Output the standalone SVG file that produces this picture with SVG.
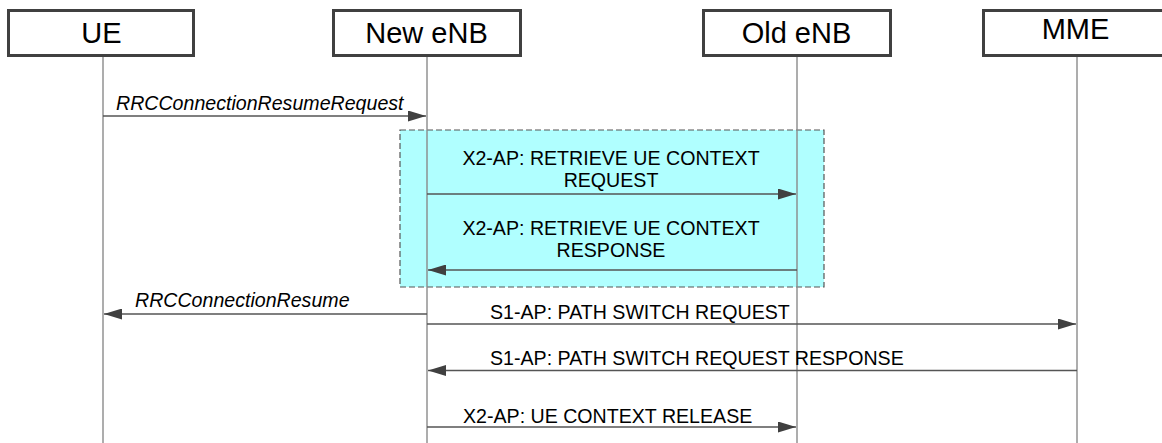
<svg xmlns="http://www.w3.org/2000/svg" width="1162" height="443" viewBox="0 0 1162 443">
<style>
.box{fill:#fff;stroke:#404040;stroke-width:3}
.title{font-family:"Liberation Sans",Arial,sans-serif;font-size:29px;fill:#000;text-anchor:middle}
.life{stroke:#8a8a8a;stroke-width:1.4}
.msg{stroke:#555;stroke-width:1.3;fill:none;marker-end:url(#ah)}
.lbl{font-family:"Liberation Sans",Arial,sans-serif;font-size:19.6px;fill:#000}
.it{font-style:italic}
.mid{text-anchor:middle}
.frame{fill:#b0ffff;stroke:#555;stroke-width:1.2;stroke-dasharray:6 3}
</style>
<defs>
<marker id="ah" viewBox="0 0 18 11" refX="18" refY="5.5" markerWidth="18" markerHeight="11" markerUnits="userSpaceOnUse" orient="auto">
<path d="M0,0 L18,5.5 L0,11 z" fill="#404040"/>
</marker>
</defs>
<rect width="1162" height="443" fill="#fff"/>
<g id="frame">
<rect class="frame" x="400" y="130" width="424" height="157"/>
</g>
<g id="UE">
<rect class="box" x="8.5" y="10.5" width="185" height="45"/>
<text class="title" x="101.5" y="42.5">UE</text>
<line class="life" x1="103" y1="57" x2="103" y2="443"/>
</g>
<g id="NewENB">
<rect class="box" x="333.5" y="10.5" width="187" height="45"/>
<text class="title" x="426.5" y="42.5">New eNB</text>
<line class="life" x1="427" y1="57" x2="427" y2="443"/>
</g>
<g id="OldENB">
<rect class="box" x="703.5" y="10.5" width="187" height="45"/>
<text class="title" x="796.5" y="42.5">Old eNB</text>
<line class="life" x1="797" y1="57" x2="797" y2="443"/>
</g>
<g id="MME">
<rect class="box" x="983.5" y="10.5" width="187" height="45"/>
<text class="title" x="1075.5" y="38.5">MME</text>
<line class="life" x1="1077" y1="57" x2="1077" y2="443"/>
</g>
<g id="connectors">
<line class="msg" x1="103" y1="116" x2="426" y2="116"/>
<text class="lbl it" x="116" y="110">RRCConnectionResumeRequest</text>
<line class="msg" x1="427" y1="194" x2="796" y2="194"/>
<text class="lbl mid" x="611" y="165">X2-AP: RETRIEVE UE CONTEXT</text>
<text class="lbl mid" x="611" y="187">REQUEST</text>
<line class="msg" x1="797" y1="270" x2="428" y2="270"/>
<text class="lbl mid" x="611" y="235">X2-AP: RETRIEVE UE CONTEXT</text>
<text class="lbl mid" x="611" y="257">RESPONSE</text>
<line class="msg" x1="427" y1="314" x2="104" y2="314"/>
<text class="lbl it" x="135" y="307">RRCConnectionResume</text>
<line class="msg" x1="427" y1="324" x2="1076" y2="324"/>
<text class="lbl" x="490" y="319">S1-AP: PATH SWITCH REQUEST</text>
<line class="msg" x1="1077" y1="370.5" x2="428" y2="370.5"/>
<text class="lbl" x="490" y="365">S1-AP: PATH SWITCH REQUEST RESPONSE</text>
<line class="msg" x1="427" y1="427" x2="796" y2="427"/>
<text class="lbl" x="463" y="423">X2-AP: UE CONTEXT RELEASE</text>
</g>
</svg>
